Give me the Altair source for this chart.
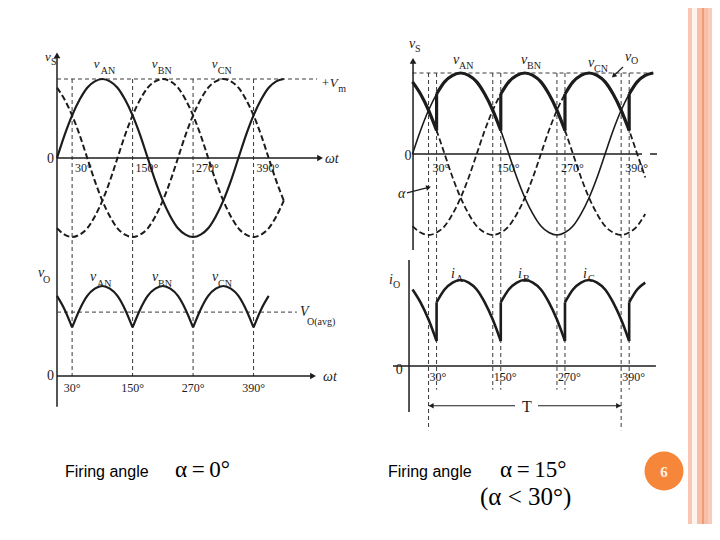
import altair as alt
import pandas as pd

W, H = 704, 516
INK = "#1c1c1c"
GUIDE = "#3a3a3a"
SERIF = "Liberation Serif"
SANS = "Liberation Sans"

# ---------------- values (angle in degrees, value in Vm units) -------------
DEG = [0, 15, 30, 45, 60, 75, 90, 105, 120, 135, 150, 165, 180, 195, 210, 225,
       240, 255, 270, 285, 300, 315, 330, 345, 360, 375, 390, 405, 420, 435, 450]
V_AN = [0, .29, .54, .74, .89, .97, 1, .97, .89, .74, .54, .29, 0, -.29, -.54, -.74,
        -.89, -.97, -1, -.97, -.89, -.74, -.54, -.29, 0, .29, .54, .74, .89, .97, 1]
V_BN = [-.89, -.97, -1, -.97, -.89, -.74, -.54, -.29, 0, .29, .54, .74, .89, .97, 1, .97,
        .89, .74, .54, .29, 0, -.29, -.54, -.74, -.89, -.97, -1, -.97, -.89, -.74, -.54]
V_CN = [.89, .74, .54, .29, 0, -.29, -.54, -.74, -.89, -.97, -1, -.97, -.89, -.74, -.54, -.29,
        0, .29, .54, .74, .89, .97, 1, .97, .89, .74, .54, .29, 0, -.29, -.54]

# output voltage, firing angle 0 deg (segments between natural commutation points)
VO0_DEG = [0, 15, 30,
           30, 45, 60, 75, 90, 105, 120, 135, 150,
           150, 165, 180, 195, 210, 225, 240, 255, 270,
           270, 285, 300, 315, 330, 345, 360, 375, 390,
           390, 405, 420]
VO0_VAL = [.89, .74, .54,
           .54, .74, .89, .97, 1, .97, .89, .74, .54,
           .54, .74, .89, .97, 1, .97, .89, .74, .54,
           .54, .74, .89, .97, 1, .97, .89, .74, .54,
           .54, .74, .89]
VO0_SEG = [0, 0, 0,
           1, 1, 1, 1, 1, 1, 1, 1, 1,
           2, 2, 2, 2, 2, 2, 2, 2, 2,
           3, 3, 3, 3, 3, 3, 3, 3, 3,
           4, 4, 4]

# output voltage / current, firing angle 15 deg
VO15_DEG = [0, 15, 30, 45,
            45, 60, 75, 90, 105, 120, 135, 150, 165,
            165, 180, 195, 210, 225, 240, 255, 270, 285,
            285, 300, 315, 330, 345, 360, 375, 390, 405,
            405, 420, 435, 450]
VO15_VAL = [.89, .74, .54, .29,
            .74, .89, .97, 1, .97, .89, .74, .54, .29,
            .74, .89, .97, 1, .97, .89, .74, .54, .29,
            .74, .89, .97, 1, .97, .89, .74, .54, .29,
            .74, .89, .97, 1]
VO15_SEG = [0, 0, 0, 0,
            1, 1, 1, 1, 1, 1, 1, 1, 1,
            2, 2, 2, 2, 2, 2, 2, 2, 2,
            3, 3, 3, 3, 3, 3, 3, 3, 3,
            4, 4, 4, 4]
JUMP_DEG = [45, 165, 285, 405]
JUMP_LO = [.29, .29, .29, .29]
JUMP_HI = [.74, .74, .74, .74]

VO_AVG = 0.71

TICK_DEG = [30, 150, 270, 390]
TICK_TXT = ["30°", "150°", "270°", "390°"]
GUIDE_R = [30, 45, 150, 165, 270, 285, 390, 405]

# label anchors (degrees, value) of each panel
LT_MAIN = (["v", "v", "v", "v", "+V"], [-23.8, 73, 188, 307, 524], [1.23, 1.14, 1.14, 1.14, 0.90])
LT_SUB = (["S", "AN", "BN", "CN", "m"], [-11.9, 87, 200, 319, 558], [1.18, 1.06, 1.06, 1.06, 0.835])
LB_MAIN = (["v", "v", "v", "v", "V"], [-37.7, 65.5, 188.5, 307.5, 482], [1.10, 1.056, 1.056, 1.056, 0.667])
LB_SUB = (["O", "AN", "BN", "CN", "O(avg)"], [-27.8, 79.4, 200.4, 319.4, 496], [1.03, 0.99, 0.99, 0.99, 0.567])
RT_MAIN = (["v", "v", "v", "v", "v", "α"], [-6.5, 75.7, 202.8, 328.0, 397.2, -27.1],
           [1.31, 1.11, 1.11, 1.074, 1.148, -0.543])
RT_SUB = (["S", "AN", "BN", "CN", "O"], [4.7, 86.9, 214.0, 339.3, 408.4], [1.26, 1.05, 1.05, 1.012, 1.11])
RB_MAIN = (["i", "i", "i", "i"], [-43.9, 72, 197.2, 318.7], [0.953, 1.023, 1.023, 1.023])
RB_SUB = (["O", "A", "B", "C"], [-36.4, 81.3, 206.5, 328.0], [0.907, 0.977, 0.977, 0.977])

# ---------------- tables ----------------
phase_df = pd.DataFrame({
    "deg": DEG * 3,
    "v": V_AN + V_BN + V_CN,
    "phase": ["AN"] * len(DEG) + ["BN"] * len(DEG) + ["CN"] * len(DEG),
})
vo0_df = pd.DataFrame({"deg": VO0_DEG, "v": VO0_VAL, "seg": VO0_SEG})
vo15_df = pd.DataFrame({"deg": VO15_DEG, "v": VO15_VAL, "seg": VO15_SEG})
jump_df = pd.DataFrame({"deg": JUMP_DEG, "lo": JUMP_LO, "hi": JUMP_HI})


def lab_df(t):
    return pd.DataFrame({"txt": t[0], "deg": t[1], "v": t[2]})


# ---------------- scales: placement of each panel on the slide ----------------
def xsc(page0, k):
    p = page0 - 8
    return alt.Scale(domain=[-p / k, (W - p) / k], nice=False, zero=False)


def ysc(page0, k):
    c = page0 - 8
    return alt.Scale(domain=[(c - H) / k, c / k], nice=False, zero=False)


class P:
    def __init__(self, xs, ys):
        self.xs, self.ys = xs, ys

    def X(self, f):
        return alt.X(f, type="quantitative", scale=self.xs, axis=None)

    def Y(self, f):
        return alt.Y(f, type="quantitative", scale=self.ys, axis=None)

    def vrule(self, df, width=1.0, dash=None, color=INK):
        kw = dict(strokeWidth=width, color=color)
        if dash:
            kw["strokeDash"] = dash
        return alt.Chart(df).mark_rule(**kw).encode(
            x=self.X("deg"), y=self.Y("top"), y2=alt.Y2("bot"))

    def hrule(self, df, width=1.0, dash=None, color=INK):
        kw = dict(strokeWidth=width, color=color)
        if dash:
            kw["strokeDash"] = dash
        return alt.Chart(df).mark_rule(**kw).encode(
            x=self.X("x0"), x2=alt.X2("x1"), y=self.Y("v"))

    def seg(self, df):
        return alt.Chart(df).mark_rule(strokeWidth=1.2, color=INK).encode(
            x=self.X("x0"), x2=alt.X2("x1"), y=self.Y("y0"), y2=alt.Y2("y1"))

    def head(self, df, shape, size=40, angle=0):
        return alt.Chart(df).mark_point(shape=shape, filled=True, size=size, angle=angle,
                                        color=INK, opacity=1, strokeWidth=0).encode(
            x=self.X("deg"), y=self.Y("v"))

    def text(self, df, size=12, style="normal", align="left", dx=0, font=SERIF):
        return alt.Chart(df).mark_text(font=font, fontSize=size, fontStyle=style, align=align,
                                       baseline="alphabetic", dx=dx, color=INK).encode(
            x=self.X("deg"), y=self.Y("v"), text="txt:N")

    def curve(self, df, width=2.0, dash=None, group="seg"):
        kw = dict(strokeWidth=width, color=INK, interpolate="monotone")
        if dash:
            kw["strokeDash"] = dash
        return alt.Chart(df).mark_line(**kw).encode(
            x=self.X("deg"), y=self.Y("v"), detail=f"{group}:N")


def one(**kw):
    return pd.DataFrame({k: [v] for k, v in kw.items()})


def ticks(v):
    return pd.DataFrame({"deg": TICK_DEG, "txt": TICK_TXT, "v": [v] * len(TICK_DEG)})


# ---------------- left, top: supply voltages ----------------
lt = P(xsc(57, 0.504), ysc(158, 79))
LT = alt.layer(
    lt.vrule(pd.DataFrame({"deg": TICK_DEG, "top": [1] * 4, "bot": [-2.76] * 4}),
             width=1, dash=[4, 3], color=GUIDE),
    lt.hrule(one(x0=0, x1=516, v=1), width=1, dash=[4, 3], color=GUIDE),
    lt.vrule(one(deg=0, top=1.30, bot=-3.15), width=1.5),
    lt.hrule(one(x0=0, x1=522, v=0), width=1.5),
    lt.head(one(deg=0, v=1.30), "triangle-up", 45),
    lt.head(one(deg=522, v=0), "triangle-right", 45),
    lt.curve(phase_df[phase_df.phase == "AN"], width=2.2, group="phase"),
    lt.curve(phase_df[phase_df.phase != "AN"], width=2.0, dash=[6, 3], group="phase"),
    lt.text(lab_df(LT_MAIN), size=13, style="italic"),
    lt.text(lab_df(LT_SUB), size=10),
    lt.text(ticks(-0.177), size=12, dx=3),
    lt.text(one(deg=-6, v=-0.063, txt="0"), size=14, align="right"),
    lt.text(one(deg=531.7, v=-0.063, txt="ωt"), size=14, style="italic"),
)

# ---------------- left, bottom: output voltage, alpha = 0 ----------------
lb = P(xsc(57, 0.504), ysc(376, 90))
LB = alt.layer(
    lb.hrule(one(x0=0, x1=476, v=VO_AVG), width=1, dash=[4, 3], color=GUIDE),
    lb.hrule(one(x0=0, x1=508, v=0), width=1.5),
    lb.head(one(deg=508, v=0), "triangle-right", 45),
    lb.curve(vo0_df, width=2.2),
    lb.text(lab_df(LB_MAIN), size=14, style="italic"),
    lb.text(lab_df(LB_SUB), size=10),
    lb.text(ticks(-0.178), size=12, align="center"),
    lb.text(one(deg=-6, v=-0.044, txt="0"), size=14, align="right"),
    lb.text(one(deg=527.8, v=-0.056, txt="ωt"), size=14, style="italic"),
)

# ---------------- right, top: supply voltages and output, alpha = 15 ----------------
rt = P(xsc(412.5, 0.535), ysc(154, 81))
RT = alt.layer(
    rt.vrule(pd.DataFrame({"deg": GUIDE_R, "top": [1] * 8,
                           "bot": [-3.41, -2.91, -2.91, -2.91, -2.91, -2.91, -3.41, -2.91]}),
             width=1, dash=[4, 3], color=GUIDE),
    rt.hrule(one(x0=0, x1=449.5, v=1), width=1, dash=[4, 3], color=GUIDE),
    rt.vrule(one(deg=1, top=1.15, bot=-1.185), width=1.5),
    rt.head(one(deg=1, v=1.15), "triangle-up", 45),
    rt.hrule(one(x0=0, x1=429, v=0), width=1.5),
    rt.hrule(one(x0=444, x1=457, v=0), width=1.5),
    rt.curve(phase_df[phase_df.phase == "AN"], width=1.6, group="phase"),
    rt.curve(phase_df[(phase_df.phase != "AN") & (phase_df.deg <= 435)], width=1.8,
             dash=[6, 3], group="phase"),
    rt.curve(vo15_df, width=3.2),
    alt.Chart(jump_df).mark_rule(strokeWidth=3.2, color=INK).encode(
        x=rt.X("deg"), y=rt.Y("lo"), y2=alt.Y2("hi")),
    rt.seg(one(x0=393.5, x1=376, y0=1.074, y1=0.965)),
    rt.head(one(deg=376, v=0.965), "triangle-up", 30, 228),
    rt.seg(one(x0=-10.3, x1=30, y0=-0.48, y1=-0.412)),
    rt.head(one(deg=30, v=-0.412), "triangle-up", 30, 75),
    rt.text(lab_df(RT_MAIN), size=14, style="italic"),
    rt.text(lab_df(RT_SUB), size=10),
    rt.text(ticks(-0.222), size=12, dx=4),
    rt.text(one(deg=-2, v=-0.074, txt="0"), size=14, align="right"),
)

# ---------------- right, bottom: output current ----------------
rb = P(xsc(412.5, 0.535), ysc(366, 86))
RB = alt.layer(
    rb.vrule(one(deg=-6.5, top=1.233, bot=-0.535), width=1.5),
    rb.hrule(one(x0=-36.4, x1=455, v=0), width=1.5),
    rb.curve(vo15_df[vo15_df.deg <= 435], width=2.6),
    alt.Chart(jump_df).mark_rule(strokeWidth=2.6, color=INK).encode(
        x=rb.X("deg"), y=rb.Y("lo"), y2=alt.Y2("hi")),
    rb.hrule(one(x0=30, x1=191.6, v=-0.462), width=1.2),
    rb.hrule(one(x0=234.6, x1=390, v=-0.462), width=1.2),
    rb.head(one(deg=35, v=-0.462), "triangle-left", 30),
    rb.head(one(deg=385, v=-0.462), "triangle-right", 30),
    rb.text(lab_df(RB_MAIN), size=14, style="italic"),
    rb.text(lab_df(RB_SUB), size=10),
    rb.text(ticks(-0.174), size=12, dx=1),
    rb.text(one(deg=-18, v=-0.093, txt="0"), size=14, align="right"),
    rb.text(one(deg=214, v=-0.535, txt="T"), size=16, align="center"),
)

# ---------------- slide decoration and captions ----------------
base = pd.DataFrame({"k": [0]})


def band(x0, x1, color):
    return alt.Chart(base).mark_rect(color=color).encode(
        x=alt.value(x0), x2=alt.value(x1), y=alt.value(0), y2=alt.value(H))


def cap(txt, x, y, size, font):
    return alt.Chart(base).mark_text(font=font, fontSize=size, align="left",
                                     baseline="alphabetic", color="#000000").encode(
        x=alt.value(x), y=alt.value(y), text=alt.value(txt))


DECO = alt.layer(
    band(680, 684, "#F8C6B3"),
    band(684, 689, "#FEF4EE"),
    band(689, 694, "#F7BFA8"),
    band(694, 696, "#EE9E74"),
    band(696, 700, "#F7BFA8"),
    band(700, 704, "#FACBB9"),
    alt.Chart(base).mark_point(shape="circle", filled=True, size=1520, color="#F6863A",
                               opacity=1, strokeWidth=0).encode(
        x=alt.value(656), y=alt.value(463)),
    alt.Chart(base).mark_text(font=SERIF, fontSize=15, fontWeight="bold", color="#FFF1E2",
                              align="center", baseline="middle").encode(
        x=alt.value(656), y=alt.value(464), text=alt.value("6")),
    cap("Firing angle", 57, 469, 16, SANS),
    cap("α\u2009=\u20090°", 167, 469, 23, SERIF),
    cap("Firing angle", 380, 469, 16, SANS),
    cap("α\u2009=\u200915°", 492, 469, 23, SERIF),
    cap("(α < 30°)", 472, 497, 25, SERIF),
)

chart = alt.layer(LT, LB, RT, RB, DECO).resolve_scale(
    x="independent", y="independent"
).properties(
    width=W, height=H, padding=0, background="white",
    autosize=alt.AutoSizeParams(type="none"),
).configure_view(stroke=None)

chart.save("out.html", embed_options={"renderer": "svg", "actions": False})
